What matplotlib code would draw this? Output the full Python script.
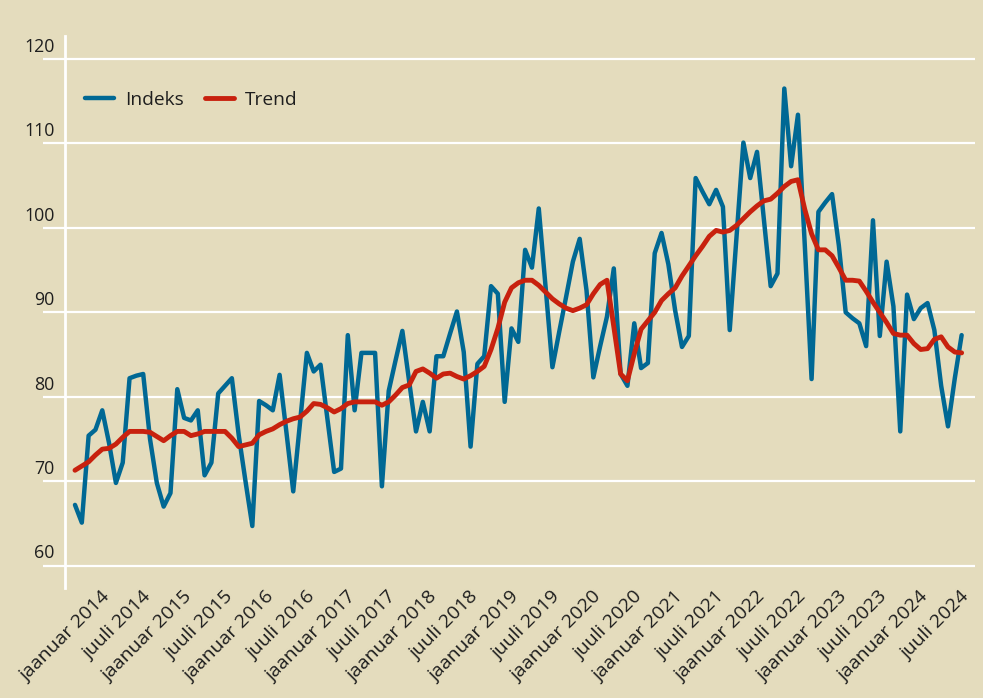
import numpy as np
import pandas as pd
import matplotlib
matplotlib.use('Agg')
import matplotlib.pyplot as plt
import matplotlib.transforms as mtransforms

plt.rcParams['font.family'] = ['Open Sans', 'DejaVu Sans']

# kuised andmed
kuud = pd.period_range('2013-09', '2024-07', freq='M')
kuu_nimed = {1: 'jaanuar', 7: 'juuli'}

indeks = [67.2, 65.1, 75.4, 76.1, 78.4, 74.5, 69.8, 72.2, 82.2, 82.5,
          82.7, 75.0, 69.8, 67.0, 68.6, 80.9, 77.5, 77.2, 78.4, 70.7,
          72.2, 80.4, 81.3, 82.2, 75.5, 70.0, 64.7, 79.5, 79.0, 78.4,
          82.6, 75.8, 68.8, 77.0, 85.2, 83.0, 83.8, 77.5, 71.1, 71.5,
          87.3, 78.4, 85.2, 85.2, 85.2, 69.4, 80.7, 84.3, 87.8, 81.8,
          75.9, 79.4, 75.9, 84.8, 84.8, 87.5, 90.1, 85.3, 74.1, 83.9,
          84.8, 93.1, 92.2, 79.4, 88.1, 86.5, 97.4, 95.3, 102.3, 93.0,
          83.5, 87.7, 91.8, 96.0, 98.7, 92.6, 82.3, 86.0, 89.5, 95.2,
          82.7, 81.3, 88.7, 83.4, 84.0, 97.0, 99.4, 95.7, 90.2, 85.9,
          87.2, 105.9, 104.3, 102.8, 104.5, 102.5, 87.9, 99.0, 110.1, 105.9,
          109.0, 101.0, 93.1, 94.6, 116.5, 107.3, 113.4, 98.0, 82.1, 101.9,
          103.0, 104.0, 97.9, 90.0, 89.3, 88.7, 86.0, 100.9, 87.2, 96.0,
          90.7, 75.9, 92.1, 89.2, 90.5, 91.1, 87.9, 81.3, 76.5, 82.2,
          87.3]

trend = [71.3, 71.8, 72.3, 73.1, 73.8, 73.9, 74.4, 75.2, 75.9, 75.9,
         75.9, 75.8, 75.3, 74.8, 75.4, 75.9, 75.9, 75.4, 75.6, 75.9,
         75.9, 75.9, 75.9, 75.1, 74.1, 74.3, 74.5, 75.5, 75.9, 76.2,
         76.7, 77.1, 77.4, 77.6, 78.3, 79.2, 79.1, 78.7, 78.2, 78.6,
         79.2, 79.4, 79.4, 79.4, 79.4, 79.0, 79.4, 80.2, 81.1, 81.4,
         83.0, 83.3, 82.8, 82.2, 82.7, 82.8, 82.4, 82.1, 82.5, 83.0,
         83.6, 85.6, 88.1, 91.2, 92.9, 93.5, 93.8, 93.8, 93.2, 92.4,
         91.6, 91.0, 90.5, 90.2, 90.5, 90.9, 92.2, 93.3, 93.8, 88.3,
         82.7, 81.9, 85.1, 88.0, 89.0, 90.0, 91.4, 92.2, 92.9, 94.3,
         95.5, 96.7, 97.8, 99.0, 99.7, 99.5, 99.7, 100.3, 101.1, 101.9,
         102.6, 103.2, 103.4, 104.1, 104.9, 105.5, 105.7, 102.2, 99.3, 97.4,
         97.4, 96.7, 95.3, 93.8, 93.8, 93.7, 92.5, 91.2, 90.0, 88.8,
         87.5, 87.3, 87.3, 86.3, 85.6, 85.7, 86.8, 87.1, 85.9, 85.3,
         85.2]

y_ticks = [60, 70, 80, 90, 100, 110, 120]

taust = '#E4DCBD'
sinine = '#006894'
punane = '#C8210E'
tekst = '#1E1E1E'

fig = plt.figure(figsize=(9.83, 6.98), dpi=100, facecolor=taust)
ax = fig.add_axes([43 / 983, 1 - 588 / 698, (975 - 43) / 983, (588 - 36) / 698])
ax.set_facecolor(taust)

x = np.arange(len(kuud))
ax.plot(x, indeks, color=sinine, lw=3.2, solid_joinstyle='round',
        solid_capstyle='round', label='Indeks', zorder=3)
ax.plot(x, trend, color=punane, lw=3.5, solid_joinstyle='round',
        solid_capstyle='round', label='Trend', zorder=4)

ax.set_xlim(-4.69, 131.96)
ax.set_ylim(57.36, 122.72)

for s in ['top', 'right', 'bottom']:
    ax.spines[s].set_visible(False)
ax.spines['left'].set_position(('data', -1.47))
ax.spines['left'].set_color('white')
ax.spines['left'].set_linewidth(2)

ax.set_yticks(y_ticks)
ax.yaxis.grid(True, color='white', lw=1.6)
ax.set_axisbelow(True)
ax.tick_params(axis='y', length=0, labelleft=False)

lbl_trans = mtransforms.offset_copy(ax.transData, fig=fig, x=-7.3, y=5.2, units='points')
for v in y_ticks:
    ax.text(-1.47, v, str(v), transform=lbl_trans, ha='right', va='baseline',
            fontsize=12.8, color=tekst)

pos = [i for i, k in enumerate(kuud) if k.month in kuu_nimed]
nimed = [f'{kuu_nimed[kuud[i].month]} {kuud[i].year}' for i in pos]
ax.set_xticks(pos)
ax.set_xticklabels(nimed, rotation=45, ha='right', va='top',
                   rotation_mode='anchor', fontsize=14, color=tekst)
ax.tick_params(axis='x', length=0, pad=0)
nihe = mtransforms.ScaledTranslation(-1.5 / 100, 0, fig.dpi_scale_trans)
for lab in ax.get_xticklabels():
    lab.set_transform(lab.get_transform() + nihe)

ax.legend(loc='center left', bbox_to_anchor=(85 / 983, 1 - 100 / 698),
          bbox_transform=fig.transFigure, ncol=2, frameon=False,
          fontsize=13.8, handlelength=1.5, handletextpad=0.6,
          columnspacing=1.1, borderpad=0, borderaxespad=0, labelcolor=tekst)

fig.savefig('out.png', dpi=100, facecolor=taust)
plt.close()
